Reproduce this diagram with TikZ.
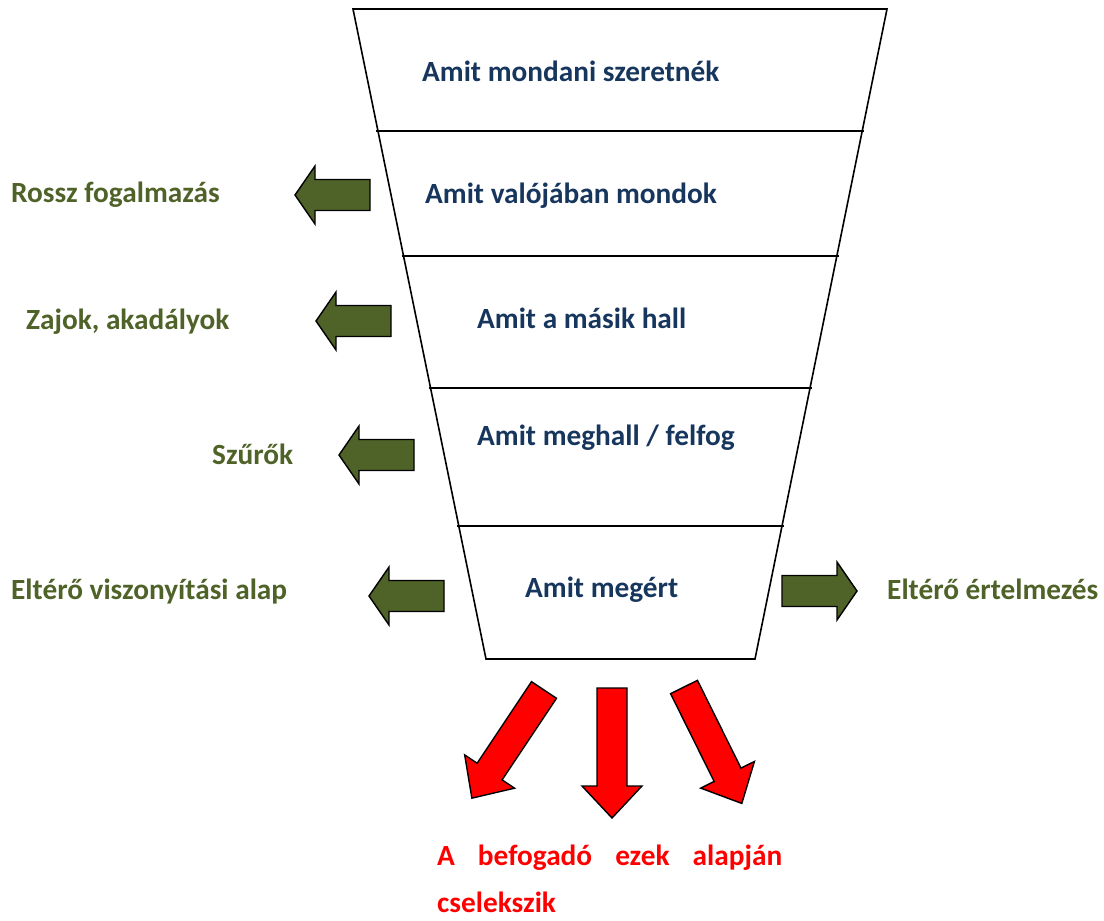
\documentclass[tikz,border=0pt]{standalone}
\usepackage{fontspec}
\setmainfont{Carlito}
\definecolor{navy}{HTML}{17365D}
\definecolor{olive}{HTML}{4F6228}
\definecolor{redc}{HTML}{FF0000}
\tikzset{
  pics/blockarrow/.style n args={4}{code={%
    \path[pic actions] (0,#2/2) -- (#1-#4,#2/2) -- (#1-#4,#3/2) -- (#1,0)
      -- (#1-#4,-#3/2) -- (#1-#4,-#2/2) -- (0,-#2/2) -- cycle;
  }},
  garrow/.style={draw=black, fill=olive, line width=1.4pt, line join=miter},
  rarrow/.style={draw=black, fill=redc, line width=1.4pt, line join=miter},
  funnel/.style={draw=black, line width=1.6pt},
  lvl/.style={anchor=base west, inner sep=0pt, text=navy, font=\fontsize{29.3}{34}\selectfont\bfseries},
  glabel/.style={anchor=base west, inner sep=0pt, text=olive, font=\fontsize{29.3}{34}\selectfont\bfseries},
  rlabel/.style={anchor=base west, inner sep=0pt, text=redc, font=\fontsize{29.3}{34}\selectfont\bfseries},
}
\begin{document}
\begin{tikzpicture}[x=1pt,y=-1pt]
\useasboundingbox (0,0) rectangle (1104,921);
% funnel corners
\coordinate (tl) at (353,9);
\coordinate (tr) at (887,9);
\coordinate (bl) at (486,659);
\coordinate (br) at (755,659);
\draw[funnel] (tl) -- (tr) -- (br) -- (bl) -- cycle;
% separators
\foreach \y/\n in {131/a,256/b,388/c,526/d}{
  \coordinate (s\n l) at ({351+0.2046*(\y-9)},\y);
  \coordinate (s\n r) at ({889-0.2031*(\y-9)},\y);
  \draw[funnel] (s\n l) -- (s\n r);
}
% level texts
\node[lvl] (t1) at (422,81) {Amit mondani szeretnék};
\node[lvl] (t2) at (425,203) {Amit valójában mondok};
\node[lvl] (t3) at (477,328) {Amit a másik hall};
\node[lvl] (t4) at (477,445) {Amit meghall / felfog};
\node[lvl] (t5) at (525,597) {Amit megért};
% green labels
\node[glabel] (g1) at (11,202) {Rossz fogalmazás};
\node[glabel] (g2) at (26,329) {Zajok, akadályok};
\node[glabel] (g3) at (212,464) {Szűrők};
\node[glabel] (g4) at (11,599) {Eltérő viszonyítási alap};
\node[glabel] (g5) at (887,599) {Eltérő értelmezés};
% green arrows
\pic[garrow, rotate=180] (ga1) at (370,195) {blockarrow={75}{31}{58}{20}};
\pic[garrow, rotate=180] (ga2) at (391,321) {blockarrow={75}{31}{58}{20}};
\pic[garrow, rotate=180] (ga3) at (414,455) {blockarrow={75}{31}{58}{20}};
\pic[garrow, rotate=180] (ga4) at (444,596) {blockarrow={75}{31}{58}{20}};
\pic[garrow] (ga5) at (782,591) {blockarrow={75}{31}{58}{20}};
% red arrows
\pic[rarrow, rotate=236.3] (ra1) at (544,690) {blockarrow={130}{30}{60}{32}};
\pic[rarrow, rotate=-90] (ra2) at (612,688) {blockarrow={130}{30}{60}{32}};
\pic[rarrow, rotate=-63.6] (ra3) at (684,687) {blockarrow={130}{30}{60}{32}};
% red text
\node[rlabel] (r1) at (437,865) {\makebox[345pt][s]{A befogadó ezek alapján}};
\node[rlabel] (r2) at (437,912) {cselekszik};
\end{tikzpicture}
\end{document}
